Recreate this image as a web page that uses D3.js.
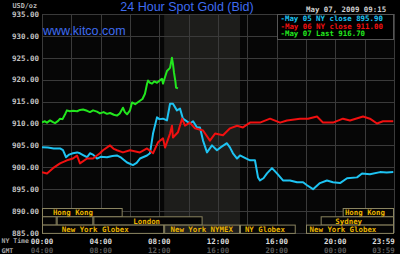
<html>
<head>
<meta charset="utf-8">
<title>24 Hour Spot Gold (Bid)</title>
<style>
  html, body { margin: 0; padding: 0; background: #000; }
  svg { display: block; }
  .mono { font-family: "DejaVu Sans Mono", monospace; font-weight: bold; }
  .sans { font-family: "Liberation Sans", Arial, sans-serif; }
</style>
<script src="https://d3js.org/d3.v7.min.js"></script>
</head>
<body>
<script>
  // --- data (hours NY time, USD/oz) ---
  var may05Hours = [0, 0.4, 0.8, 1.23, 1.43, 1.64, 1.85, 2.11, 2.4, 2.59, 2.8, 3.07, 3.27, 3.48, 3.75, 4.0, 4.43, 4.8, 5.11, 5.4, 5.8, 6.2, 6.45, 6.68, 7.16, 7.36, 7.57, 7.84, 8.0, 8.25, 8.52, 8.73, 8.93, 9.2, 9.41, 9.61, 10.09, 10.3, 10.57, 10.77, 10.98, 11.25, 11.59, 11.93, 12.2, 12.61, 12.82, 13.02, 13.3, 13.5, 13.8, 14.18, 14.52, 14.73, 14.86, 15.1, 15.34, 15.68, 16.02, 16.43, 16.91, 17.39, 17.8, 18.07, 18.48, 18.95, 19.43, 19.84, 20.32, 20.8, 21.48, 21.82, 22.36, 23.05, 23.5, 23.95];
  var may05Prices = [904.6, 904.5, 904.3, 904.3, 903.9, 902.3, 902.9, 903.2, 903.4, 903.2, 902.8, 902.3, 903.2, 902.9, 902.0, 902.4, 902.3, 902.6, 902.7, 902.2, 901.1, 900.5, 901.0, 902.0, 902.7, 903.2, 907.7, 911.4, 911.0, 911.1, 910.7, 914.5, 914.5, 913.0, 913.4, 911.1, 910.0, 910.5, 909.1, 909.1, 906.1, 903.4, 905.0, 903.9, 904.6, 905.5, 904.5, 903.2, 902.0, 902.7, 902.2, 901.6, 901.6, 897.7, 897.0, 897.5, 898.6, 899.8, 898.6, 897.0, 897.0, 896.6, 896.6, 895.9, 895.0, 896.4, 897.0, 896.6, 896.4, 897.5, 897.7, 898.6, 898.4, 898.9, 898.8, 898.9];

  var may06Hours = [0, 0.34, 0.75, 1.23, 1.7, 2.11, 2.39, 2.59, 3.07, 3.48, 3.95, 4.16, 4.64, 4.9, 5.11, 5.52, 6.0, 6.68, 7.16, 7.57, 7.91, 8.25, 8.39, 8.73, 8.86, 8.93, 9.27, 9.55, 9.75, 10.09, 10.43, 10.98, 11.45, 11.8, 12.34, 12.82, 13.3, 13.7, 14.18, 14.86, 15.55, 16.23, 16.7, 17.59, 18.14, 18.75, 19.16, 19.84, 20.52, 21.0, 21.89, 22.36, 22.84, 23.25, 23.95];
  var may06Prices = [898.9, 898.6, 899.8, 900.9, 901.6, 902.0, 902.7, 900.9, 902.0, 902.0, 903.2, 903.9, 905.0, 904.2, 903.9, 903.4, 903.9, 903.4, 904.3, 903.2, 905.7, 906.6, 904.5, 907.7, 909.5, 906.8, 908.0, 911.1, 909.5, 910.2, 908.9, 908.4, 906.1, 907.7, 907.3, 908.9, 909.5, 909.1, 910.2, 910.2, 911.1, 910.2, 910.7, 911.1, 911.1, 911.6, 910.2, 910.2, 911.1, 910.7, 911.6, 911.1, 910.0, 910.5, 910.5];

  var may07Hours = [0, 0.2, 0.34, 0.55, 0.75, 0.89, 1.1, 1.23, 1.4, 1.6, 1.7, 1.9, 2.11, 2.4, 2.59, 2.8, 3.07, 3.27, 3.48, 3.75, 3.95, 4.2, 4.43, 4.64, 4.9, 5.11, 5.3, 5.52, 5.65, 5.8, 6.0, 6.14, 6.35, 6.68, 6.85, 7.02, 7.16, 7.23, 7.36, 7.5, 7.65, 7.84, 8.05, 8.18, 8.25, 8.39, 8.52, 8.73, 8.86, 8.93, 9.0, 9.1, 9.14, 9.27];
  var may07Prices = [910.3, 910.5, 910.2, 910.7, 910.3, 910.1, 910.6, 911.1, 911.0, 912.3, 913.0, 912.8, 912.9, 912.8, 913.1, 913.2, 912.9, 912.6, 913.0, 912.7, 912.3, 912.6, 912.2, 912.4, 912.0, 911.8, 912.3, 913.6, 912.6, 912.1, 913.0, 914.8, 914.4, 915.2, 915.6, 916.8, 919.0, 919.8, 919.3, 919.1, 919.6, 919.3, 919.9, 920.2, 919.1, 920.6, 922.0, 922.7, 925.0, 923.6, 921.6, 919.5, 918.2, 918.0];

  var legendLabels = ["May 05 NY close 895.90", "May 06 NY close 911.00", "May 07 Last 916.70"];
  var seriesColors = ["#1ec3f2", "#f01010", "#22e61e"];

  var nyTicks = ["00:00", "04:00", "08:00", "12:00", "16:00", "20:00", "23:59"];
  var gmtTicks = ["04:00", "08:00", "12:00", "16:00", "20:00", "00:00", "03:59"];
  var tickHours = [0, 4, 8, 12, 16, 20, 23.98];

  // market sessions: row, start hour, end hour, label, label centre hour
  var sessions = [
    {row: 0, start: 0, end: 5.5, name: "Hong Kong", mid: 2.11},
    {row: 0, start: 20.5, end: 24, name: "Hong Kong", mid: 22.02},
    {row: 1, start: 0, end: 1.0, name: "", mid: 0.5},
    {row: 1, start: 1.0, end: 3.5, name: "", mid: 2.25},
    {row: 1, start: 3.5, end: 10.95, name: "London", mid: 7.14},
    {row: 1, start: 19.0, end: 24, name: "Sydney", mid: 20.91},
    {row: 2, start: 0, end: 8.33, name: "New York Globex", mid: 3.63},
    {row: 2, start: 8.33, end: 13.5, name: "New York NYMEX", mid: 10.89},
    {row: 2, start: 13.5, end: 17.3, name: "NY Globex", mid: 15.2},
    {row: 2, start: 18.0, end: 24, name: "New York Globex", mid: 20.52}
  ];
  var nymex = [8.33, 13.5];

  var width = 400, height = 254;
  var svg = d3.select("body").append("svg")
    .attr("width", width)
    .attr("height", height);

  var x = d3.scaleLinear().domain([0, 24]).range([42, 394]);
  var y = d3.scaleLinear().domain([885, 935]).range([233, 14]);

  // plot background + NYMEX shading
  svg.append("rect")
    .attr("x", x(0)).attr("y", y(935))
    .attr("width", x(24) - x(0)).attr("height", y(885) - y(935))
    .attr("fill", "#060606");
  svg.append("rect")
    .attr("x", x(nymex[0])).attr("y", y(935))
    .attr("width", x(nymex[1]) - x(nymex[0])).attr("height", y(885) - y(935))
    .attr("fill", "#1d1d1b");

  // grid
  var grid = svg.append("g").attr("stroke", "#3a3a3a").attr("stroke-width", 1);
  grid.selectAll(".h")
    .data(d3.range(885, 936, 5))
    .enter().append("line")
    .attr("x1", x(0)).attr("x2", x(24))
    .attr("y1", d => Math.round(y(d)) + 0.5).attr("y2", d => Math.round(y(d)) + 0.5);
  grid.selectAll(".v")
    .data(d3.range(0, 25, 2))
    .enter().append("line")
    .attr("y1", y(935)).attr("y2", y(885))
    .attr("x1", d => Math.round(x(d)) + 0.5).attr("x2", d => Math.round(x(d)) + 0.5);

  // y labels
  svg.append("g").selectAll("text")
    .data(d3.range(885, 936, 5))
    .enter().append("text")
    .attr("class", "mono")
    .attr("x", 39)
    .attr("y", d => y(d) + 2.7)
    .attr("text-anchor", "end")
    .attr("font-size", "7.5px")
    .attr("fill", "#c4c4c4")
    .text(d => d3.format(".2f")(d));

  // session boxes
  var rowTop = [208, 216.3, 224.6], rowH = 8.3;
  var sg = svg.append("g");
  sg.selectAll("rect")
    .data(sessions)
    .enter().append("rect")
    .attr("x", d => x(d.start) + 0.5)
    .attr("y", d => rowTop[d.row] + 0.5)
    .attr("width", d => x(d.end) - x(d.start) - 1)
    .attr("height", rowH)
    .attr("fill", d => d.start >= nymex[0] && d.end <= nymex[1] ? "#1d1d1b" : "#040404")
    .attr("stroke", "#8a8460")
    .attr("stroke-width", 1);
  sg.selectAll("text")
    .data(sessions.filter(d => d.name))
    .enter().append("text")
    .attr("class", "mono")
    .attr("x", d => x(d.mid))
    .attr("y", d => rowTop[d.row] + 7.2)
    .attr("text-anchor", "middle")
    .attr("font-size", "7.4px")
    .attr("fill", "#eab400")
    .text(d => d.name);

  // lines
  svg.append("clipPath").attr("id", "plotclip").append("rect")
    .attr("x", x(0)).attr("y", y(935)).attr("width", x(24) - x(0)).attr("height", y(885) - y(935));
  var line = d3.line().x(d => x(d[0])).y(d => y(d[1]));
  var series = [
    d3.zip(may05Hours, may05Prices),
    d3.zip(may06Hours, may06Prices),
    d3.zip(may07Hours, may07Prices)
  ];
  svg.append("g").attr("clip-path", "url(#plotclip)")
    .selectAll("path")
    .data(series)
    .enter().append("path")
    .attr("d", line)
    .attr("fill", "none")
    .attr("stroke", (d, i) => seriesColors[i])
    .attr("stroke-width", 2)
    .attr("stroke-linejoin", "round");

  // title texts
  svg.append("text").attr("class", "sans")
    .attr("x", 187).attr("y", 10.5)
    .attr("text-anchor", "middle")
    .attr("font-size", "12.5px")
    .attr("fill", "#3f6cf0")
    .text("24 Hour Spot Gold (Bid)");
  svg.append("text").attr("class", "sans")
    .attr("x", 43).attr("y", 35)
    .attr("font-size", "12.5px")
    .attr("fill", "#3f6cf0")
    .text("www.kitco.com");
  svg.append("text").attr("class", "mono")
    .attr("x", 12.5).attr("y", 7.5)
    .attr("font-size", "6.8px")
    .attr("fill", "#b8b8b8")
    .text("USD/oz");
  svg.append("text").attr("class", "mono")
    .attr("x", 306).attr("y", 11.5)
    .attr("font-size", "7.4px")
    .attr("fill", "#cfcfcf")
    .text("May 07, 2009 09:15");

  // legend
  var lg = svg.append("g");
  lg.append("rect")
    .attr("x", 277.5).attr("y", 14.5).attr("width", 116).attr("height", 25)
    .attr("fill", "#000").attr("stroke", "#555").attr("stroke-width", 1);
  lg.selectAll("text")
    .data(legendLabels)
    .enter().append("text")
    .attr("class", "mono")
    .attr("x", 280.5)
    .attr("y", (d, i) => 21 + i * 7.6)
    .attr("font-size", "7.4px")
    .attr("fill", (d, i) => seriesColors[i])
    .text(d => "-" + d);

  // x labels
  svg.append("text").attr("class", "mono")
    .attr("x", 1.5).attr("y", 243.3)
    .attr("font-size", "6.5px").attr("fill", "#a8a8a8")
    .text("NY Time");
  svg.append("text").attr("class", "mono")
    .attr("x", 1.5).attr("y", 253)
    .attr("font-size", "6.5px").attr("fill", "#a8a8a8")
    .text("GMT");
  svg.append("g").selectAll("text")
    .data(nyTicks)
    .enter().append("text")
    .attr("class", "mono")
    .attr("x", (d, i) => i === nyTicks.length - 1 ? x(tickHours[i]) + 1 : x(tickHours[i]))
    .attr("y", 243.5)
    .attr("text-anchor", (d, i) => i === nyTicks.length - 1 ? "end" : "middle")
    .attr("font-size", "7.5px")
    .attr("fill", "#dcdcdc")
    .text(d => d);
  svg.append("g").selectAll("text")
    .data(gmtTicks)
    .enter().append("text")
    .attr("class", "mono")
    .attr("x", (d, i) => i === gmtTicks.length - 1 ? x(tickHours[i]) + 1 : x(tickHours[i]))
    .attr("y", 253.3)
    .attr("text-anchor", (d, i) => i === gmtTicks.length - 1 ? "end" : "middle")
    .attr("font-size", "7.5px")
    .attr("fill", "#5a5a5a")
    .text(d => d);
</script>
</body>
</html>
